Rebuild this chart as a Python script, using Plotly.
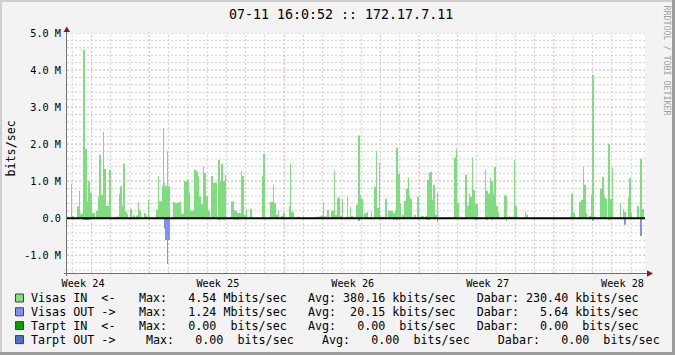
import plotly.graph_objects as go

# ---------------- data ----------------
STEP_H = 720 / 578  # hours per consolidated RRD sample (30 days)

# Visas IN: sample index where a run starts, run length (samples), Mbit/s
in_start = [0, 4, 5, 10, 12, 13, 16, 18, 20, 21, 23, 25, 29, 31, 32, 34, 36, 37, 39, 42,
            44, 48, 52, 53, 55, 56, 58, 60, 63, 66, 69, 71, 72, 77, 79, 81, 89, 91, 92, 95,
            96, 97, 98, 100, 101, 106, 108, 110, 112, 114, 117, 120, 122, 123, 127, 129, 131, 132, 134, 136,
            137, 139, 141, 144, 146, 150, 151, 153, 154, 156, 158, 164, 167, 170, 172, 174, 175, 177, 179, 183,
            195, 196, 203, 206, 207, 209, 211, 214, 216, 222, 223, 224, 230, 249, 252, 254, 256, 257, 260, 264,
            267, 268, 270, 273, 275, 280, 281, 283, 284, 289, 291, 293, 294, 297, 300, 304, 307, 309, 310, 312,
            313, 318, 321, 326, 328, 329, 331, 333, 335, 337, 339, 341, 342, 343, 345, 347, 349, 350, 352, 354,
            358, 360, 362, 363, 365, 366, 368, 370, 387, 389, 390, 394, 398, 400, 402, 403, 405, 406, 408, 418,
            419, 421, 423, 424, 426, 427, 429, 431, 437, 439, 440, 442, 443, 447, 448, 458, 459, 503, 504, 506,
            512, 514, 516, 517, 519, 522, 524, 525, 527, 533, 535, 537, 538, 541, 543, 545, 553, 556, 557, 561,
            562, 564, 570, 572, 573, 575]
in_len = [2, 1, 2, 2, 1, 3, 2, 2, 1, 2, 2, 3, 2, 1, 2, 2, 1, 2, 3, 2,
          1, 4, 1, 2, 1, 2, 2, 1, 2, 2, 2, 1, 2, 2, 1, 1, 2, 1, 3, 1,
          1, 1, 2, 1, 2, 2, 2, 2, 2, 3, 3, 2, 1, 4, 2, 2, 1, 2, 2, 1,
          2, 2, 2, 2, 4, 1, 2, 1, 2, 2, 1, 3, 3, 2, 2, 1, 2, 2, 1, 2,
          1, 2, 3, 1, 2, 2, 1, 2, 2, 1, 1, 3, 3, 2, 2, 2, 1, 2, 2, 3,
          1, 2, 3, 2, 1, 1, 2, 1, 2, 2, 2, 1, 2, 3, 1, 1, 2, 1, 2, 1,
          4, 2, 5, 2, 1, 2, 2, 1, 2, 2, 2, 1, 1, 2, 2, 2, 1, 2, 2, 3,
          2, 2, 1, 2, 1, 2, 2, 1, 2, 1, 2, 1, 2, 2, 1, 2, 1, 2, 3, 1,
          2, 2, 1, 2, 1, 2, 2, 1, 2, 1, 2, 1, 4, 1, 2, 1, 2, 1, 2, 2,
          2, 2, 1, 2, 1, 2, 1, 2, 2, 2, 2, 1, 2, 2, 2, 1, 1, 1, 2, 1,
          2, 1, 2, 1, 2, 2]
in_mbps = [0.04, 0.93, 0.06, 0.32, 0.74, 0.12, 4.54, 1.87, 0.45, 1.00, 0.68, 0.15, 0.20, 0.59, 1.71, 0.63, 2.33, 1.33, 0.33, 1.31,
           0.04, 0.04, 0.66, 0.86, 0.34, 1.47, 0.18, 0.11, 0.25, 0.07, 0.07, 0.42, 0.21, 0.13, 0.05, 0.50, 0.23, 1.14, 0.46, 0.86,
           2.44, 0.96, 0.86, 1.82, 0.86, 0.44, 0.40, 0.42, 0.44, 0.12, 1.00, 1.04, 0.69, 0.21, 1.31, 1.27, 1.13, 0.59, 0.38, 1.41,
           1.22, 0.59, 0.21, 1.14, 0.96, 0.03, 1.58, 1.00, 1.47, 1.00, 1.17, 0.45, 0.21, 0.14, 0.14, 1.28, 1.14, 0.09, 0.23, 0.25,
           1.13, 1.74, 0.44, 0.90, 0.41, 0.09, 0.20, 0.06, 0.14, 0.33, 1.47, 0.17, 0.04, 0.04, 0.05, 0.07, 0.44, 0.05, 0.23, 0.20,
           1.28, 0.09, 0.55, 0.06, 0.52, 0.58, 0.04, 0.31, 0.06, 0.36, 2.23, 0.63, 0.52, 0.13, 0.17, 0.17, 0.85, 1.82, 0.28, 1.50,
           0.04, 0.52, 0.20, 0.13, 0.23, 1.90, 1.20, 0.40, 0.09, 0.47, 0.79, 1.09, 0.63, 0.52, 0.04, 0.09, 0.04, 0.58, 0.04, 0.06,
           0.06, 1.04, 1.23, 1.25, 0.50, 0.90, 0.09, 0.68, 1.64, 1.87, 0.41, 0.04, 1.17, 0.33, 0.66, 0.58, 1.63, 0.77, 0.39, 1.31,
           0.74, 0.66, 1.09, 1.00, 0.66, 1.39, 0.33, 0.17, 0.62, 0.59, 0.04, 0.06, 0.04, 1.58, 0.33, 0.17, 0.09, 0.04, 0.66, 0.14,
           0.44, 0.50, 1.39, 0.90, 0.14, 0.06, 0.63, 3.87, 0.04, 0.79, 1.12, 0.61, 0.52, 2.01, 0.52, 1.36, 0.41, 0.25, 0.17, 0.55,
           1.09, 0.14, 0.33, 0.04, 1.60, 0.25]

# Visas OUT (drawn below zero)
out_start = [16, 32, 36, 56, 92, 97, 98, 100, 101, 108, 151, 156, 167, 170, 291, 312, 326, 329,
             360, 370, 408, 419, 424, 439, 525, 541, 557, 573]
out_len = [7, 1, 1, 2, 1, 1, 2, 1, 2, 1, 3, 2, 2, 2, 2, 1, 2, 2,
           3, 1, 2, 2, 2, 1, 2, 2, 2, 2]
out_mbps = [0.05, 0.03, 0.03, 0.03, 0.02, 0.28, 0.59, 1.24, 0.59, 0.03, 0.04, 0.04, 0.04, 0.04, 0.07, 0.03, 0.04, 0.04,
            0.04, 0.10, 0.04, 0.04, 0.04, 0.07, 0.07, 0.04, 0.18, 0.48]

y_tick_vals = [-1, 0, 1, 2, 3, 4, 5]
y_tick_text = ["-1.0 M", "0.0", "1.0 M", "2.0 M", "3.0 M", "4.0 M", "5.0 M"]
week_label_hours = [20, 188, 356, 524, 692]
week_labels = ["Week 24", "Week 25", "Week 26", "Week 27", "Week 28"]
week_grid_hours = [102.5, 270.5, 438.5, 606.5]
day_grid_first = 6.5

title_text = "07-11 16:0:52 :: 172.17.7.11"
legend_names = ["Visas IN  <-", "Visas OUT ->", "Tarpt IN  <-", "Tarpt OUT ->"]
legend_colors = ["#80E080", "#8090FF", "#00A000", "#5070C8"]
legend_stats = [
    "Max:   4.54 Mbits/sec   Avg: 380.16 kbits/sec   Dabar: 230.40 kbits/sec",
    "Max:   1.24 Mbits/sec   Avg:  20.15 kbits/sec   Dabar:   5.64 kbits/sec",
    "Max:   0.00  bits/sec   Avg:   0.00  bits/sec   Dabar:   0.00  bits/sec",
    "Max:   0.00  bits/sec    Avg:   0.00  bits/sec    Dabar:   0.00  bits/sec",
]

# ---------------- layout geometry ----------------
W, H = 675, 355
L, R, T, B = 67, 30, 33, 82
PW, PH = W - L - R, H - T - B
Y0, Y1 = -1.48, 5.0
X0, X1 = 0, 720
MONO = "DejaVu Sans Mono"


def px(x):
    return (x - L) / PW


def py(y):
    return (H - B - y) / PH


def step_area(starts, lens, vals, sign):
    """RRD-style AREA: stepped outline built from the sample runs."""
    xs, ys = [X0], [0.0]
    for s, n, v in zip(starts, lens, vals):
        xs.append(s * STEP_H)
        ys.append(sign * v)
        xs.append((s + n) * STEP_H)
        ys.append(0.0)
    return xs, ys


fig = go.Figure()
xi, yi = step_area(in_start, in_len, in_mbps, 1)
fig.add_trace(go.Scatter(x=xi, y=yi, mode="lines", line=dict(shape="hv", width=0, color="#7FDC7F"),
                         fill="tozeroy", fillcolor="#7FDC7F", name="Visas IN", hoverinfo="skip"))
xo, yo = step_area(out_start, out_len, out_mbps, -1)
fig.add_trace(go.Scatter(x=xo, y=yo, mode="lines", line=dict(shape="hv", width=0, color="#8090F8"),
                         fill="tozeroy", fillcolor="#8090F8", name="Visas OUT", hoverinfo="skip"))

shapes = []
GRAY = "#CFCFCF"
RED = "#E8A8A8"
# horizontal grid
for k in range(-7, 26):
    v = k * 0.2
    if abs(v) < 1e-9:
        continue
    major = (k % 5 == 0)
    shapes.append(dict(type="line", xref="x", yref="y", x0=X0, x1=X1, y0=v, y1=v,
                       line=dict(color=RED if major else GRAY, width=1, dash="2px,2px"),
                       layer="below"))
# vertical grid
for d in range(30):
    h = day_grid_first + 24 * d
    if any(abs(h - w) < 1e-6 for w in week_grid_hours):
        continue
    shapes.append(dict(type="line", xref="x", yref="y", x0=h, x1=h, y0=Y0, y1=Y1,
                       line=dict(color=GRAY, width=1, dash="2px,2px"), layer="below"))
for h in week_grid_hours:
    shapes.append(dict(type="line", xref="x", yref="y", x0=h, x1=h, y0=Y0, y1=Y1,
                       line=dict(color=RED, width=1, dash="2px,2px"), layer="below"))
# zero line
shapes.append(dict(type="line", xref="x", yref="y", x0=X0, x1=X1, y0=0, y1=0,
                   line=dict(color="#000000", width=2), layer="above"))
# axes lines
AX = "#707070"
shapes.append(dict(type="line", xref="paper", yref="paper", x0=px(66.5), x1=px(66.5),
                   y0=py(276), y1=py(30), line=dict(color=AX, width=1)))
shapes.append(dict(type="line", xref="paper", yref="paper", x0=px(64), x1=px(648),
                   y0=py(273.5), y1=py(273.5), line=dict(color=AX, width=1)))
# arrows
ARW = "#8B1A1A"
shapes.append(dict(type="path", xref="paper", yref="paper",
                   path=f"M {px(63.5)} {py(32)} L {px(70)} {py(32)} L {px(66.7)} {py(26.5)} Z",
                   fillcolor=ARW, line=dict(width=0)))
shapes.append(dict(type="path", xref="paper", yref="paper",
                   path=f"M {px(647)} {py(270.3)} L {px(647)} {py(276.7)} L {px(653)} {py(273.5)} Z",
                   fillcolor=ARW, line=dict(width=0)))
# frame borders
shapes.append(dict(type="rect", xref="paper", yref="paper", x0=px(0), x1=px(W), y0=py(0), y1=py(2),
                   fillcolor="#CFCFCF", line=dict(width=0)))
shapes.append(dict(type="rect", xref="paper", yref="paper", x0=px(0), x1=px(2), y0=py(0), y1=py(H),
                   fillcolor="#CFCFCF", line=dict(width=0)))
shapes.append(dict(type="rect", xref="paper", yref="paper", x0=px(W - 3), x1=px(W), y0=py(0), y1=py(H),
                   fillcolor="#9C9C9C", line=dict(width=0)))
shapes.append(dict(type="rect", xref="paper", yref="paper", x0=px(0), x1=px(W), y0=py(H - 3), y1=py(H),
                   fillcolor="#9C9C9C", line=dict(width=0)))

annotations = []
annotations.append(dict(text=title_text, xref="paper", yref="paper", x=px(340.5), y=py(14),
                        xanchor="center", yanchor="middle", showarrow=False,
                        font=dict(family=MONO, size=13.3, color="#000000")))
annotations.append(dict(text="bits/sec", xref="paper", yref="paper", x=px(10.5), y=py(149),
                        xanchor="center", yanchor="middle", textangle=-90, showarrow=False,
                        font=dict(family=MONO, size=11.7, color="#000000")))
annotations.append(dict(text="RRDTOOL / TOBI OETIKER", xref="paper", yref="paper", x=px(666.5), y=py(60),
                        xanchor="center", yanchor="middle", textangle=90, showarrow=False,
                        font=dict(family=MONO, size=8.3, color="#A0A0A0")))
row_y = [298, 311.8, 325.6, 339.6]
stat_x = [138, 138, 138, 145.3]
for i in range(4):
    shapes.append(dict(type="rect", xref="paper", yref="paper",
                       x0=px(15.5), x1=px(23.5), y0=py(row_y[i] - 4), y1=py(row_y[i] + 4),
                       fillcolor=legend_colors[i], line=dict(color="#404040", width=1)))
    annotations.append(dict(text=legend_names[i], xref="paper", yref="paper", x=px(30), y=py(row_y[i]),
                            xanchor="left", yanchor="middle", showarrow=False, borderpad=0,
                            font=dict(family=MONO, size=11.7, color="#000000")))
    annotations.append(dict(text=legend_stats[i].replace(" ", "&nbsp;"), xref="paper", yref="paper",
                            x=px(stat_x[i]), y=py(row_y[i]),
                            xanchor="left", yanchor="middle", showarrow=False, borderpad=0,
                            font=dict(family=MONO, size=11.7, color="#000000")))

fig.update_layout(
    width=W, height=H, margin=dict(l=L, r=R, t=T, b=B, pad=0),
    paper_bgcolor="#F3F3F3", plot_bgcolor="#FFFFFF",
    showlegend=False,
    shapes=shapes, annotations=annotations,
    xaxis=dict(range=[X0, X1], showgrid=False, zeroline=False, showline=False,
               tickmode="array", tickvals=week_label_hours, ticktext=week_labels,
               ticks="outside", ticklen=1, tickcolor="rgba(0,0,0,0)",
               tickfont=dict(family=MONO, size=10.2, color="#000000"), fixedrange=True),
    yaxis=dict(range=[Y0, Y1], showgrid=False, zeroline=False, showline=False,
               tickmode="array", tickvals=y_tick_vals, ticktext=y_tick_text,
               ticks="outside", ticklen=3, tickcolor="rgba(0,0,0,0)",
               tickfont=dict(family=MONO, size=10.2, color="#000000"), fixedrange=True),
)

fig.write_html("out.html", config={"displayModeBar": False})
